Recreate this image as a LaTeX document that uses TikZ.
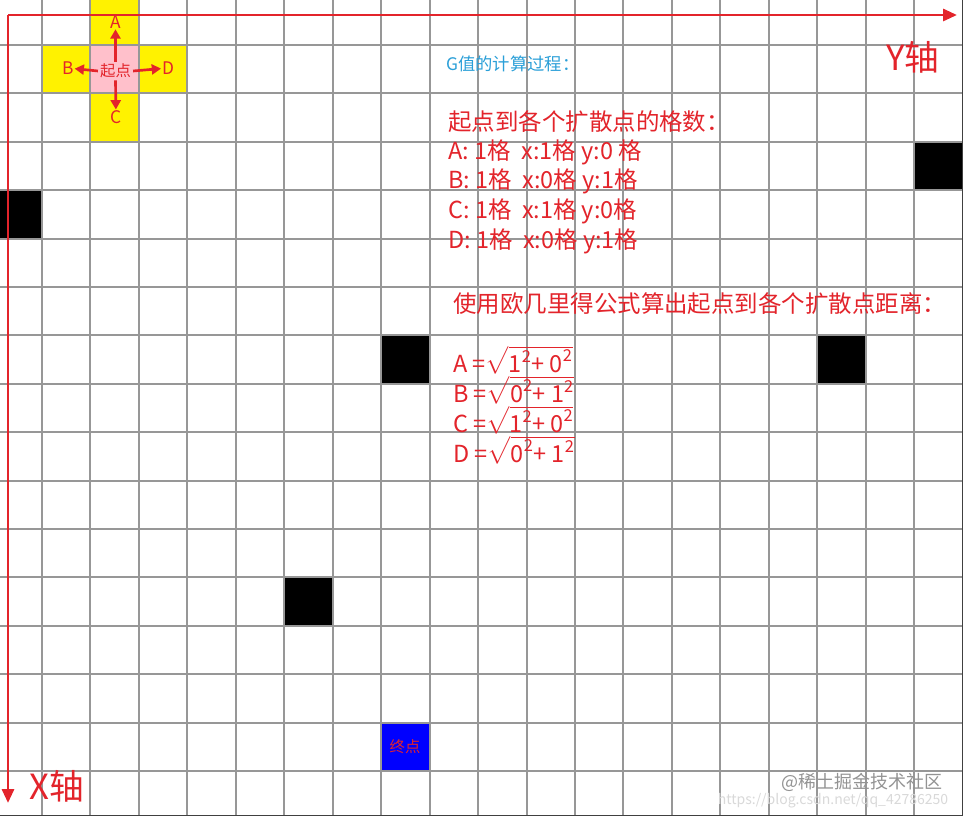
\documentclass[tikz,border=0pt]{standalone}
\usepackage{fontspec}
\usepackage{amsmath}
\setmainfont{Noto Sans CJK SC}
\usetikzlibrary{arrows.meta}
\definecolor{axisred}{HTML}{E3242B}
\definecolor{gcyan}{HTML}{2A9FD8}
\definecolor{gridgray}{HTML}{979797}
\definecolor{startpink}{HTML}{FFC0CB}
\newcommand\gridcell[3]{\fill[#3] ({42+48.45*(#1)},{45+48.4*(#2)}) rectangle ++(48.45,48.4);}
\begin{document}
\begin{tikzpicture}[x=0.75pt,y=-0.75pt]
    \tikzset{
        redtext/.style={text=axisred,anchor=west,inner sep=0pt,font=\fontsize{17.6}{20}\selectfont},
        dirlabel/.style={text=axisred,inner sep=0.5pt,font=\fontsize{13}{15}\selectfont},
        axislabel/.style={text=axisred,inner sep=0pt,font=\fontsize{26}{30}\selectfont},
        redarrow/.style={axisred,line width=2pt,-{Triangle[length=7pt,width=7.5pt]}},
    }
    \useasboundingbox (0,0) rectangle (963,816);
    \fill[white] (0,0) rectangle (963,816);
    \begin{scope}
        \clip (0,0) rectangle (963,816);
        % start and its neighbours
        \gridcell{1}{0}{startpink}
        \foreach \i/\j in {1/-1,0/0,2/0,1/1} {\gridcell{\i}{\j}{yellow}}
        % obstacles
        \foreach \i/\j in {18/2,-1/3,7/6,16/6,5/11} {\gridcell{\i}{\j}{black}}
        % goal
        \gridcell{7}{14}{blue}
        % grid
        \foreach \k in {-1,...,19} {\draw[gridgray,line width=1.5pt] ({42+48.45*\k},0) -- ({42+48.45*\k},816);}
        \foreach \k in {-1,...,16} {\draw[gridgray,line width=1.5pt] (0,{45+48.4*\k}) -- (963,{45+48.4*\k});}
    \end{scope}
    \draw[black!75,line width=1.8pt] (963,0) -- (963,816) -- (0,816);
    % axes
    \coordinate (o) at (8,15);
    \coordinate (yend) at (957,15);
    \coordinate (xend) at (8,803);
    \draw[axisred,line width=2.2pt,-{Triangle[length=10.5pt,width=9pt]}] (o) -- (yend);
    \draw[axisred,line width=2.2pt,-{Triangle[length=10.5pt,width=9pt]}] (o) -- (xend);
    \node[axislabel] (ylab) at (913,57) {Y轴};
    \node[axislabel] (xlab) at (57,786) {X轴};
    % start and directions
    \node[text=axisred,inner sep=1.5pt,font=\fontsize{11.5}{13}\selectfont] (start) at (115.5,71) {起点};
    \node[dirlabel] (a) at (115.5,22) {A};
    \node[dirlabel] (b) at (68,68) {B};
    \node[dirlabel] (d) at (168,68) {D};
    \node[dirlabel] (c) at (116,117) {C};
    \draw[redarrow] (start.north) -- (a);
    \draw[redarrow] (start.west) -- (b);
    \draw[redarrow] (start.east) -- (d);
    \draw[redarrow] (start.south) -- (c);
    \node[text=axisred,font=\fontsize{11.5}{13}\selectfont] (goal) at (405,747) {终点};
    % G value notes
    \node[anchor=west,inner sep=0pt,text=gcyan,font=\fontsize{13}{15}\selectfont] (gtitle) at (446,64) {G值的计算过程：};
    \node[redtext] (cnttitle) at (448,122) {起点到各个扩散点的格数：};
    \node[redtext] (cnta) at (448,152) {A: 1格\ \ x:1格 y:0 格};
    \node[redtext] (cntb) at (448,181) {B: 1格\ \ x:0格 y:1格};
    \node[redtext] (cntc) at (448,211) {C: 1格\ \ x:1格 y:0格};
    \node[redtext] (cntd) at (448,241) {D: 1格\ \ x:0格 y:1格};
    \node[redtext] (disttitle) at (453,304) {使用欧几里得公式算出起点到各个扩散点距离：};
    \node[redtext] (dista) at (453,360) {A =$\sqrt{\text{1}^{\text{2}}\text{+ 0}^{\text{2}}}$};
    \node[redtext] (distb) at (453,390) {B =$\sqrt{\text{0}^{\text{2}}\text{+ 1}^{\text{2}}}$};
    \node[redtext] (distc) at (453,420) {C =$\sqrt{\text{1}^{\text{2}}\text{+ 0}^{\text{2}}}$};
    \node[redtext] (distd) at (453,450) {D =$\sqrt{\text{0}^{\text{2}}\text{+ 1}^{\text{2}}}$};
    % watermark
    \node[text=gray!85,font=\fontsize{13.5}{15}\selectfont] (mark) at (862,782) {@稀土掘金技术社区};
    \node[text=gray!30,font=\fontsize{10.5}{12}\selectfont] (url) at (833,801) {https://blog.csdn.net/qq\_42786250};
\end{tikzpicture}
\end{document}
